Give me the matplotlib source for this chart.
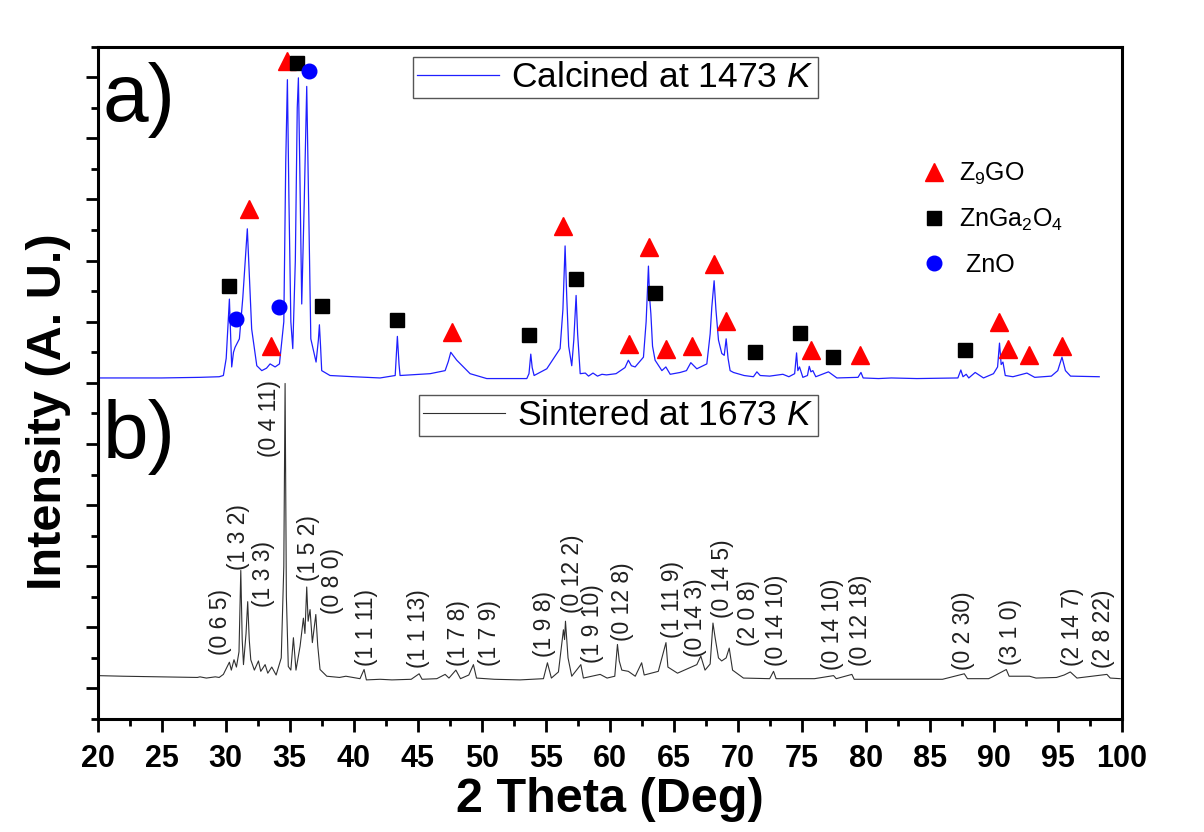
import numpy as np
import matplotlib
matplotlib.use("Agg")
import matplotlib.pyplot as plt

plt.rcParams['font.family'] = ['Liberation Sans', 'DejaVu Sans']
plt.rcParams['mathtext.fontset'] = 'custom'
plt.rcParams['mathtext.rm'] = 'Liberation Sans'
plt.rcParams['mathtext.it'] = 'Liberation Sans:italic'
plt.rcParams['mathtext.default'] = 'regular'

# ---- a) calcined at 1473 K (trace, offset units) ----
tt_calc = [20.0, 25.0, 28.0, 29.5, 29.83, 30.05, 30.30, 30.48, 30.62, 30.74, 31.08, 31.35,
           31.70, 31.85, 32.04, 32.44, 32.83, 33.20, 33.48, 33.87, 34.21, 34.55, 34.70, 34.83,
           34.95, 35.10, 35.25, 35.45, 35.60, 35.69, 35.80, 35.95, 36.15, 36.34, 36.48, 36.66,
           37.07, 37.25, 37.33, 37.42, 37.51, 38.16, 40.0, 42.07, 43.25, 43.42, 43.55, 43.63,
           45.98, 47.15, 47.40, 47.59, 48.06, 49.10, 50.40, 53.53, 53.70, 53.84, 53.95, 54.10,
           55.09, 56.13, 56.35, 56.52, 56.65, 56.80, 57.04, 57.20, 57.38, 57.50, 57.70, 58.10,
           58.35, 58.70, 59.05, 59.40, 59.75, 60.5, 61.2, 61.46, 61.70, 61.99, 62.64, 62.85,
           63.03, 63.12, 63.22, 63.35, 63.55, 64.08, 64.39, 64.73, 65.51, 66.0, 66.34, 66.81,
           67.59, 67.85, 67.98, 68.16, 68.30, 68.50, 68.76, 68.95, 69.10, 69.25, 69.41, 69.67,
           70.5, 71.23, 71.50, 71.76, 72.5, 73.53, 74.0, 74.45, 74.60, 74.70, 74.83, 75.09,
           75.45, 75.59, 75.72, 75.87, 76.1, 77.09, 77.75, 79.4, 79.63, 79.80, 81.0, 82.0,
           84.0, 87.2, 87.43, 87.60, 87.85, 88.05, 88.55, 89.20, 89.98, 90.30, 90.45, 90.58,
           90.72, 90.90, 91.5, 92.59, 93.2, 94.5, 95.0, 95.33, 95.60, 96.0, 98.24]
i_calc = [508, 508, 509, 510, 512, 540, 637, 526, 550, 558, 572, 640,
          752, 680, 588, 528, 520, 524, 531, 526, 531, 600, 860, 996,
          800, 600, 556, 700, 950, 999, 850, 629, 800, 985, 800, 572,
          534, 570, 595, 560, 520, 512, 510, 508, 512, 576, 530, 512,
          515, 520, 535, 550, 537, 515, 507, 507, 515, 547, 525, 512,
          523, 556, 620, 724, 640, 560, 528, 570, 643, 580, 515, 516,
          511, 516, 511, 514, 513, 515, 525, 537, 528, 526, 542, 600,
          691, 640, 613, 560, 537, 520, 526, 514, 517, 520, 533, 523,
          531, 580, 624, 667, 620, 570, 548, 545, 572, 540, 520, 517,
          512, 510, 518, 512, 511, 514, 510, 515, 549, 520, 526, 509,
          512, 527, 518, 520, 510, 518, 508, 509, 517, 508, 507, 508,
          507, 508, 521, 510, 514, 508, 517, 508, 515, 526, 565, 530,
          534, 512, 510, 516, 509, 511, 520, 542, 520, 511, 510]

# ---- b) sintered at 1673 K ----
tt_sint = [20.0, 22.0, 25.0, 27.8, 28.0, 28.5, 29.2, 29.5, 29.83, 30.30, 30.45, 30.66,
           30.85, 31.05, 31.19, 31.30, 31.40, 31.60, 31.73, 31.85, 31.97, 32.25, 32.57, 32.75,
           33.09, 33.30, 33.61, 33.95, 34.35, 34.55, 34.65, 34.75, 34.90, 35.10, 35.30, 35.50,
           35.82, 36.08, 36.20, 36.34, 36.45, 36.60, 36.78, 37.05, 37.20, 37.38, 37.91, 38.9,
           39.4, 40.5, 40.82, 41.0, 42.07, 43.0, 44.5, 45.12, 45.35, 46.5, 47.15, 47.45,
           47.99, 48.35, 49.0, 49.36, 49.60, 51.0, 53.0, 54.83, 55.14, 55.45, 56.0, 56.39,
           56.48, 56.55, 56.75, 57.04, 57.75, 57.95, 59.26, 59.8, 60.4, 60.61, 60.75, 60.95,
           61.46, 62.0, 62.50, 62.70, 63.8, 64.40, 64.55, 65.3, 66.81, 67.12, 67.45, 67.85,
           68.07, 68.24, 68.50, 68.75, 69.10, 69.34, 69.60, 70.45, 72.5, 72.80, 73.0, 76.0,
           77.49, 77.70, 78.92, 79.10, 83.0, 86.0, 87.70, 87.95, 89.6, 89.9, 90.98, 91.2,
           92.8, 93.3, 94.9, 95.5, 95.98, 96.5, 98.84, 99.1, 99.88]
i_sint = [21, 20, 19, 18, 19, 17, 19, 18, 23, 43, 30, 47,
          35, 60, 193, 80, 39, 90, 142, 80, 47, 30, 45, 28,
          39, 25, 35, 22, 50, 200, 499, 150, 36, 30, 83, 30,
          69, 115, 90, 166, 110, 129, 75, 121, 70, 31, 20, 18,
          20, 16, 31, 14, 15, 14, 15, 24, 15, 16, 23, 17,
          30, 16, 22, 39, 17, 15, 14, 16, 42, 17, 27, 96,
          80, 110, 50, 20, 39, 17, 23, 17, 20, 72, 45, 30,
          28, 20, 42, 22, 28, 75, 35, 25, 39, 53, 30, 40,
          107, 83, 50, 45, 50, 66, 30, 17, 16, 28, 16, 16,
          21, 16, 23, 15, 15, 15, 24, 16, 16, 19, 31, 20,
          20, 17, 18, 22, 27, 17, 23, 17, 16]

# ---- phase markers in panel a) ----
z9go_tt = [34.78, 31.81, 33.55, 47.67, 56.36, 61.55, 63.05, 64.41, 66.42, 68.16, 69.11,
           75.72, 79.57, 90.45, 91.08, 92.72, 95.33]
z9go_i = [1026, 784, 561, 584, 757, 563, 722, 555, 560, 694, 601,
          553, 546, 599, 556, 545, 561]
zga_tt = [35.56, 30.30, 37.51, 43.42, 53.73, 57.36, 63.55, 71.37, 74.83, 77.44, 87.72]
zga_i = [1023, 659, 626, 603, 579, 670, 647, 551, 582, 543, 554]
zno_tt = [36.52, 30.82, 34.15]
zno_i = [1010, 604, 624]

# ---- hkl labels in panel b) ----
hkl_text = ["(0 6 5)", "(1 3 2)", "(1 3 3)", "(0 4 11)", "(1 5 2)", "(0 8 0)", "(1 1 11)",
            "(1 1 13)", "(1 7 8)", "(1 7 9)", "(1 9 8)", "(0 12 2)", "(1 9 10)", "(0 12 8)",
            "(1 11 9)", "(0 14 3)", "(0 14 5)", "(2 0 8)", "(0 14 10)", "(0 14 10)",
            "(0 12 18)", "(0 2 30)", "(3 1 0)", "(2 14 7)", "(2 8 22)"]
hkl_tt = [29.57, 30.98, 32.93, 33.44, 36.45, 38.32, 40.98, 45.04, 48.17, 50.59, 54.88,
          57.07, 58.63, 60.98, 64.88, 66.68, 68.79, 70.82, 73.01, 77.38, 79.57, 87.62,
          91.29, 96.13, 98.55]
hkl_i = [55, 194, 134, 378, 175, 121, 36, 34, 36, 36, 51, 124, 42, 77, 83, 52, 116, 69,
         36, 31, 36, 31, 39, 36, 34]

fig = plt.figure(figsize=(12.04, 8.32), dpi=100)
ax = fig.add_axes([0.081, 0.1358, 0.8507, 0.8081])

ln_calc, = ax.plot(tt_calc, i_calc, color='#1f1fff', lw=0.9)
ln_sint, = ax.plot(tt_sint, i_sint, color='#303030', lw=0.8)

m1, = ax.plot(z9go_tt, z9go_i, ls='none', marker='^', ms=13.5, color='#ff0000',
              mec='#ff0000', clip_on=False)
m2, = ax.plot(zga_tt, zga_i, ls='none', marker='s', ms=9.5, color='black', clip_on=False)
m3, = ax.plot(zno_tt, zno_i, ls='none', marker='o', ms=10.5, color='#0000ff', clip_on=False)

for t, x, y in zip(hkl_text, hkl_tt, hkl_i):
    ax.text(x, y, t, rotation=90, ha='center', va='bottom', fontsize=16.5, color='#202020')

ax.set_xlim(20, 100)
ax.set_ylim(-50, 1050)
ax.set_xticks(np.arange(20, 101, 5))
ax.set_xticks(np.arange(20, 101, 2.5), minor=True)
ax.set_yticks(np.arange(0, 1001, 100))
ax.set_yticks(np.arange(-50, 1051, 50), minor=True)
ax.set_yticklabels([])
ax.tick_params(which='major', direction='out', length=9, width=2, labelsize=22, pad=9)
ax.tick_params(which='minor', direction='out', length=5, width=2)
ax.tick_params(axis='y', which='both', left=True, right=False)
for lab in ax.get_xticklabels():
    lab.set_fontweight('bold')
for sp in ax.spines.values():
    sp.set_linewidth(2.2)

ax.set_xlabel('2 Theta (Deg)', fontsize=35, fontweight='bold', labelpad=2)
fig.text(0.040, 1 - 412 / 832, 'Intensity (A. U.)', rotation=90, ha='center', va='center',
         fontsize=35, fontweight='bold')

ax.text(0.005, 0.921, 'a)', transform=ax.transAxes, fontsize=59, va='center', ha='left')
ax.text(0.005, 0.42, 'b)', transform=ax.transAxes, fontsize=59, va='center', ha='left')

leg_kw = dict(loc='upper left', borderaxespad=0, fancybox=False, fontsize=25.5,
              handlelength=2.3, borderpad=0.12, handletextpad=0.35, framealpha=1)
leg1 = ax.legend([ln_calc], [r'Calcined at 1473 $\it{K}$'], bbox_to_anchor=(0.308, 0.985),
                 **leg_kw)
leg1.get_frame().set_edgecolor('#555555')
leg1.get_frame().set_linewidth(1.0)
ax.add_artist(leg1)
leg2 = ax.legend([ln_sint], [r'Sintered at 1673 $\it{K}$'], bbox_to_anchor=(0.314, 0.482),
                 **leg_kw)
leg2.get_frame().set_edgecolor('#555555')
leg2.get_frame().set_linewidth(1.0)
ax.add_artist(leg2)

leg3 = ax.legend([m1, m2, m3], [r'Z$_9$GO', r'ZnGa$_2$O$_4$', r' ZnO'], loc='upper left',
                 bbox_to_anchor=(0.78, 0.864), frameon=False, fontsize=18, labelspacing=0.8,
                 handletextpad=0.4, handlelength=1.2)

fig.savefig('out.png', dpi=100, facecolor='white')
